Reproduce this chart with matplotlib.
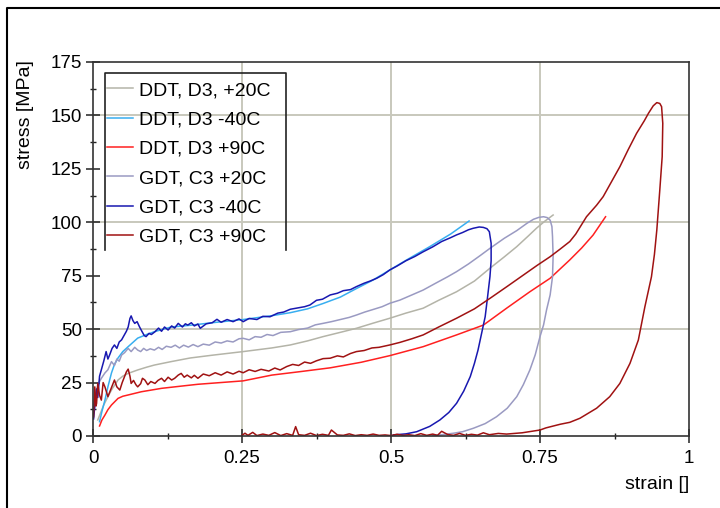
import numpy as np
import matplotlib
matplotlib.use("Agg")
import matplotlib.pyplot as plt
from matplotlib.lines import Line2D

plt.rcParams['font.family'] = ['Liberation Sans', 'DejaVu Sans']

labels = ["DDT, D3, +20C", "DDT, D3 -40C", "DDT, D3 +90C",
          "GDT, C3 +20C", "GDT, C3 -40C", "GDT, C3 +90C"]
colors = ["#b4b4a8", "#38aef0", "#ff2020", "#9a9ac2", "#1818b0", "#a01212"]

# DDT, D3, +20C
x_ddt20 = [0.008, 0.013, 0.018, 0.025, 0.032, 0.042, 0.05, 0.059, 0.075, 0.09, 0.103, 0.131, 0.163,
           0.2, 0.252, 0.3, 0.331, 0.36, 0.386, 0.415, 0.442, 0.47, 0.498, 0.525, 0.554, 0.58,
           0.61, 0.64, 0.666, 0.69, 0.711, 0.73, 0.744, 0.758, 0.772]
y_ddt20 = [7.5, 11, 14.5, 18.4, 22, 26.2, 28, 29.3, 30.9, 32.2, 33.2, 34.8, 36.5,
           37.8, 39.5, 41.2, 42.6, 44.5, 46.5, 48.5, 50.4, 52.8, 55.1, 57.5, 59.8, 63.5,
           67.5, 72.5, 78.5, 83.8, 88.6, 93.5, 97.2, 100.5, 103.4]

# DDT, D3 -40C
x_ddtm40 = [0.011, 0.015, 0.02, 0.025, 0.031, 0.036, 0.042, 0.05, 0.059, 0.075, 0.09, 0.103, 0.131,
            0.163, 0.2, 0.252, 0.3, 0.331, 0.36, 0.386, 0.415, 0.442, 0.47, 0.498, 0.53, 0.565,
            0.6, 0.631]
y_ddtm40 = [6.7, 11.5, 16.8, 23, 29.5, 33.5, 36.5, 39.5, 41.8, 45.8, 47.5, 48.8, 51,
            51.8, 53, 54.5, 56.3, 57.7, 59.5, 62, 65, 69, 73, 77.7, 83, 88.6,
            94.5, 100.6]

# DDT, D3 +90C
x_ddt90 = [0.011, 0.015, 0.02, 0.025, 0.031, 0.042, 0.05, 0.059, 0.081, 0.115, 0.15, 0.176, 0.252,
           0.3, 0.35, 0.398, 0.45, 0.498, 0.554, 0.61, 0.655, 0.694, 0.733, 0.767, 0.8, 0.82,
           0.839, 0.86]
y_ddt90 = [4.7, 7.5, 9.8, 12.3, 14.5, 17.6, 18.6, 19.2, 20.7, 22.3, 23.4, 24.2, 25.8,
           28.5, 30.2, 31.9, 34.5, 37.6, 41.8, 47.3, 51.9, 59.8, 67.5, 73.8, 82.4, 88,
           94, 102.6]

# GDT, C3 +20C
x_gdt20 = [0.002, 0.004, 0.006, 0.01, 0.014, 0.02, 0.025, 0.031, 0.036, 0.04, 0.044, 0.048, 0.053,
           0.059, 0.064, 0.07, 0.075, 0.08, 0.085, 0.09, 0.096, 0.103, 0.11, 0.116, 0.123, 0.131,
           0.138, 0.145, 0.152, 0.16, 0.168, 0.176, 0.185, 0.195, 0.205, 0.215, 0.225, 0.235,
           0.245, 0.252, 0.262, 0.272, 0.282, 0.292, 0.302, 0.315, 0.331, 0.345, 0.36, 0.373,
           0.386, 0.4, 0.415, 0.43, 0.442, 0.456, 0.47, 0.485, 0.498, 0.515, 0.535, 0.554, 0.575,
           0.595, 0.61, 0.63, 0.65, 0.666, 0.69, 0.711, 0.728, 0.739, 0.748, 0.756, 0.762, 0.767,
           0.77, 0.771, 0.772, 0.771, 0.767, 0.761, 0.756, 0.75, 0.742, 0.733, 0.722, 0.711,
           0.695, 0.677, 0.658, 0.638, 0.62, 0.605, 0.585, 0.57]
y_gdt20 = [12, 18, 21.5, 25, 27, 29.5, 31, 34.8, 33, 36, 35, 37.9, 39,
           41, 39.5, 41.5, 40.2, 39.5, 41, 40, 40.8, 40.2, 41.5, 40.5, 42, 41.5,
           42.5, 41.2, 42.5, 41.6, 42.8, 41.8, 43, 42.5, 44, 43.5, 44.5, 44,
           45.5, 45.7, 45, 46.5, 46.2, 47.5, 47, 48.5, 48.8, 49.8, 50.5, 52,
           52.7, 53.5, 54.5, 55.5, 56.6, 58, 59.2, 60.5, 62.1, 63.6, 66, 68.3, 71.5,
           74.5, 76.9, 80.5, 84.5, 87.8, 92.5, 96.1, 99.5, 101.4, 102.3, 102.6, 102.2, 101,
           98, 93.3, 84, 74.5, 66, 59, 52, 46.5, 38, 30.9, 24, 18.4,
           13, 9, 5.8, 3.6, 2, 1.3, 0.6, 0.3]

# GDT, C3 -40C
x_gdtm40 = [0.001, 0.003, 0.006, 0.008, 0.011, 0.014, 0.018, 0.022, 0.025, 0.028, 0.032, 0.036, 0.04,
            0.044, 0.048, 0.052, 0.056, 0.059, 0.062, 0.064, 0.067, 0.07, 0.074, 0.078, 0.082,
            0.086, 0.089, 0.094, 0.098, 0.104, 0.11, 0.115, 0.12, 0.126, 0.132, 0.137, 0.143,
            0.15, 0.155, 0.159, 0.165, 0.17, 0.176, 0.18, 0.19, 0.2, 0.208, 0.215, 0.225, 0.235,
            0.245, 0.252, 0.262, 0.275, 0.285, 0.297, 0.31, 0.32, 0.331, 0.345, 0.355, 0.364,
            0.375, 0.385, 0.398, 0.41, 0.42, 0.432, 0.442, 0.455, 0.465, 0.476, 0.487, 0.498,
            0.51, 0.525, 0.54, 0.554, 0.57, 0.585, 0.6, 0.61, 0.62, 0.63, 0.638, 0.648, 0.655,
            0.661, 0.665, 0.668, 0.668, 0.666, 0.662, 0.658, 0.652, 0.646, 0.64, 0.633, 0.622,
            0.61, 0.597, 0.582, 0.565, 0.543, 0.525, 0.504]
y_gdtm40 = [8, 14, 22, 18, 28, 31, 35, 39.5, 36, 38, 41, 42.6, 41,
            44, 45, 47, 49, 51, 55, 56.2, 54, 52.7, 53.5, 51.1, 49,
            47, 46.5, 48, 47.5, 48.8, 50.5, 49, 51, 49.6, 51.5, 50.5, 52.7,
            51, 52.5, 51.9, 53, 51.5, 52.4, 50.4, 52.5, 53, 54.6, 53.2, 54.5, 53.5,
            54.8, 53.5, 55, 54.5, 56, 55.8, 57.5, 58, 59.3, 60, 60.5, 61.3,
            63.5, 64, 66, 66.8, 68, 68.5, 69.9, 71.5, 72.5, 73.8, 75.5, 77.7,
            79.5, 82, 84, 86.2, 88.5, 91, 92.8, 94.1, 95.2, 96.5, 97.2, 97.8, 97.6,
            97, 95.6, 90.2, 82, 74.5, 65, 55.8, 48, 40.2, 34, 27.8, 21,
            15.3, 11, 7.5, 4.5, 2, 1, 0.5]

# GDT, C3 +90C
x_gdt90 = [0.001, 0.003, 0.005, 0.006, 0.008, 0.011, 0.014, 0.017, 0.02, 0.025, 0.03, 0.036, 0.04,
           0.045, 0.049, 0.053, 0.056, 0.059, 0.062, 0.064, 0.068, 0.072, 0.075, 0.08, 0.083,
           0.087, 0.092, 0.097, 0.104, 0.109, 0.115, 0.12, 0.126, 0.132, 0.137, 0.143, 0.148,
           0.153, 0.158, 0.165, 0.17, 0.176, 0.185, 0.195, 0.205, 0.215, 0.225, 0.235, 0.245,
           0.252, 0.262, 0.272, 0.282, 0.295, 0.305, 0.314, 0.325, 0.335, 0.345, 0.355, 0.365,
           0.375, 0.386, 0.398, 0.41, 0.42, 0.432, 0.442, 0.455, 0.468, 0.48, 0.498, 0.515,
           0.535, 0.554, 0.58, 0.61, 0.64, 0.666, 0.695, 0.722, 0.745, 0.767, 0.784, 0.8, 0.81,
           0.828, 0.845, 0.856, 0.87, 0.884, 0.898, 0.912, 0.925, 0.932, 0.94, 0.946, 0.951, 0.954,
           0.956, 0.955, 0.951, 0.946, 0.942, 0.937, 0.926, 0.915, 0.901, 0.884, 0.867, 0.845,
           0.817, 0.8, 0.784, 0.76, 0.75, 0.72, 0.694, 0.68,
           0.665, 0.655, 0.645, 0.635, 0.625, 0.615, 0.605, 0.595, 0.585, 0.578, 0.57, 0.56,
           0.55, 0.54, 0.53, 0.52, 0.51, 0.5, 0.49, 0.48, 0.47, 0.46, 0.45, 0.44, 0.43, 0.42,
           0.41, 0.4, 0.395, 0.385, 0.375, 0.365, 0.355, 0.345, 0.34, 0.335, 0.325, 0.315,
           0.305, 0.295, 0.285, 0.275, 0.268, 0.26, 0.255, 0.25]
y_gdt90 = [9, 23, 14, 15.3, 24.6, 19, 16.8, 25, 23, 18.4, 22, 26.2, 23,
           21.5, 25, 27.8, 30, 31.3, 28, 24.6, 26, 24, 23, 24.5, 27,
           26.2, 24, 25.5, 24.6, 26, 27, 25.5, 27.5, 26.2, 27, 28.5, 29.3,
           27.5, 28.5, 27.2, 28.4, 27, 29, 28.2, 29.6, 28.5, 30, 29, 30.3,
           29.6, 31, 30.2, 31.2, 30.4, 31.8, 30.9, 32.5, 33.5, 33, 34.6, 34,
           35.2, 36.2, 36.4, 37.5, 37, 38.6, 39.5, 40, 41.2, 41.5, 42.6, 43.8,
           45.5, 47.3, 51, 55.1, 59.5, 64.4, 70, 75.3, 79.8, 83.9, 87.5, 91, 94.5,
           102.6, 108, 112, 119, 126, 134, 141.6, 147.5, 151, 154.5, 156, 155.6, 154.1,
           146.3, 130.7, 115.1, 96.4, 85, 74.5, 60.5, 44.9, 34, 24.6, 18.4, 13,
           8.3, 6.4, 5.5, 3.8, 2.8, 1.5, 0.9, 1.2,
           0.6, 1.5, 0.4, 0.8, 0.3, 1.2, 0.3, 0.7, 2.2, 0.3, 0.9, 0.3,
           1.1, 0.2, 0.6, 0.3, 0.8, 0.2, 0.5, 0.3, 0.9, 0.3, 0.6, 0.2, 1.0, 0.3,
           0.5, 2.8, 0.3, 0.8, 0.2, 1.3, 0.3, 0.6, 4.4, 0.3, 1.1, 0.2,
           1.6, 0.3, 0.9, 0.2, 1.7, 0.3, 1.3, 0.3]

series = [(x_ddt20, y_ddt20), (x_ddtm40, y_ddtm40), (x_ddt90, y_ddt90),
          (x_gdt20, y_gdt20), (x_gdtm40, y_gdtm40), (x_gdt90, y_gdt90)]

xticks = [0, 0.25, 0.5, 0.75, 1]
xticklabels = ["0", "0.25", "0.5", "0.75", "1"]
yticks = [0, 25, 50, 75, 100, 125, 150, 175]

fig = plt.figure(figsize=(7.2, 5.08), dpi=100)
ax = fig.add_axes([93/720, 72/508, 596/720, 374/508])

for (x, y), lab, c in zip(series, labels, colors):
    ax.plot(x, y, color=c, lw=1.1, label=lab)

ax.set_xlim(0, 1)
ax.set_ylim(0, 175)
ax.set_xticks(xticks)
ax.set_xticklabels(xticklabels)
ax.set_yticks(yticks)
ax.set_yticklabels([str(v) for v in yticks])
ax.set_xticks(np.arange(0.125, 1, 0.25), minor=True)
ax.set_yticks(np.arange(12.5, 175, 25), minor=True)
ax.tick_params(which='major', direction='inout', length=10, width=1.1, labelsize=13.5, color='#222222')
ax.tick_params(axis='x', which='major', pad=5)
ax.tick_params(axis='y', which='major', pad=3)
ax.tick_params(which='minor', direction='inout', length=5, width=1.0, color='#222222')

for v in [0.25, 0.5, 0.75]:
    ax.axvline(v, color='#c8c8bc', lw=1.4, zorder=0)
for v in [50, 100, 150]:
    ax.axhline(v, color='#c8c8bc', lw=1.4, zorder=0)

for s in ax.spines.values():
    s.set_color('#333333')
    s.set_linewidth(1.2)

ax.set_xlabel("strain []", fontsize=14)
ax.xaxis.set_label_coords(1.0, -0.131)
ax.xaxis.label.set_horizontalalignment('right')
ax.xaxis.label.set_verticalalignment('center')
fig.text(26/720, 1 - 60/508, "stress [MPa]", rotation=90, ha='center', va='top', fontsize=14)

leg = ax.legend(loc='upper left', bbox_to_anchor=(0.017, 0.958), frameon=False, fontsize=14,
                handlelength=1.35, handletextpad=0.3, labelspacing=0.6, borderaxespad=0, borderpad=0.2)

# legend box without a bottom edge
ax.add_line(Line2D([0.020, 0.020, 0.324, 0.324], [0.497, 0.971, 0.971, 0.497],
                   transform=ax.transAxes, color='#222222', lw=1.2, clip_on=False))

# outer frame
fig.add_artist(Line2D([7/720, 7/720, 1.0], [0.0, 1 - 8/508, 1 - 8/508],
                      transform=fig.transFigure, color='black', lw=1.5))

fig.savefig("out.png", dpi=100)
